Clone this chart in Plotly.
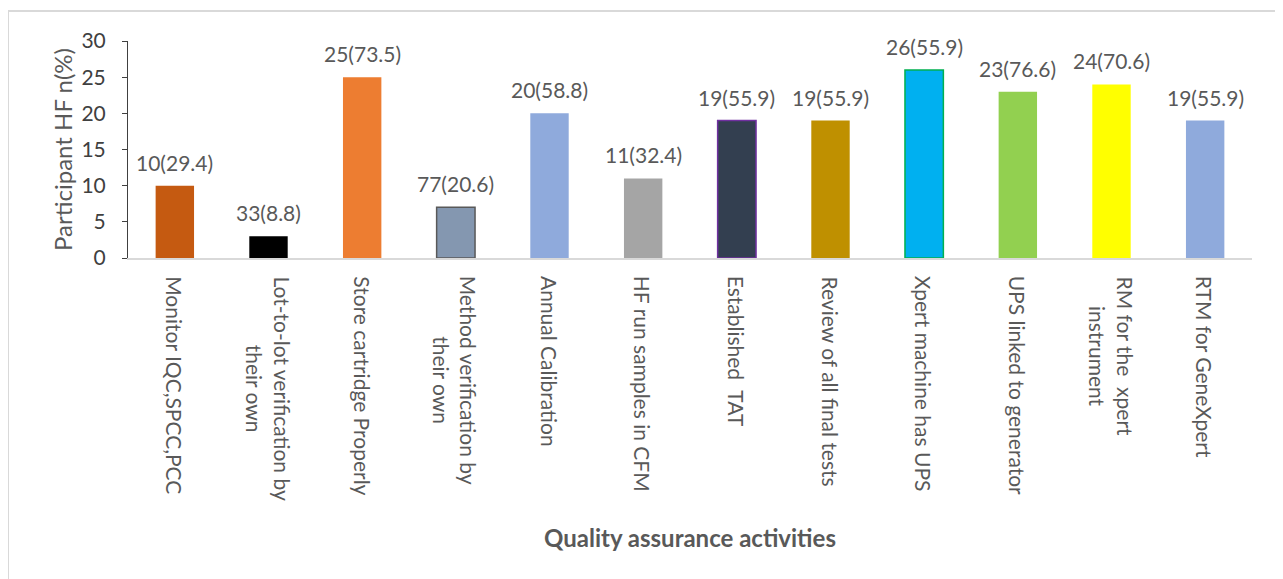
import plotly.graph_objects as go

categories = [
    "Monitor IQC,SPCC,PCC",
    "Lot-to-lot verification by<br>their own",
    "Store cartridge Properly",
    "Method verification by<br>their own",
    "Annual Calibration",
    "HF run samples in CFM",
    "Established  TAT",
    "Review of all final tests",
    "Xpert machine has UPS",
    "UPS linked to generator",
    "RM for the  xpert<br>instrument",
    "RTM for GeneXpert",
]
counts = [10, 3, 25, 7, 20, 11, 19, 19, 26, 23, 24, 19]
value_labels = ["10(29.4)", "33(8.8)", "25(73.5)", "77(20.6)", "20(58.8)", "11(32.4)",
                "19(55.9)", "19(55.9)", "26(55.9)", "23(76.6)", "24(70.6)", "19(55.9)"]
y_ticks = [0, 5, 10, 15, 20, 25, 30]

bar_colors = ["#C55A11", "#000000", "#ED7D31", "#8497B0", "#8FAADC", "#A5A5A5",
              "#333F50", "#BF9000", "#00B0F0", "#92D050", "#FFFF00", "#8FAADC"]
outline_colors = ["#C55A11", "#000000", "#ED7D31", "#595959", "#8FAADC", "#A5A5A5",
                  "#7030A0", "#BF9000", "#00B050", "#92D050", "#FFFF00", "#8FAADC"]
outline_widths = [0, 0, 0, 1.5, 0, 0, 1.5, 0, 1.5, 0, 0, 0]

OFF = 8  # page body margin
W, H = 1283 - OFF, 579 - OFF
L, R, T, B = 128 - OFF, 1252 - OFF, 41 - OFF, 258 - OFF
FONT = "Lato"
TXT = "#595959"

def px_x(p):
    return (p - OFF - L) / (R - L)

def px_y(p):
    return (B - (p - OFF)) / (B - T)

fig = go.Figure()
fig.add_trace(go.Bar(
    x=categories, y=counts,
    marker=dict(color=bar_colors, line=dict(color=outline_colors, width=outline_widths)),
    width=0.41,
    hoverinfo="skip",
))

annotations = []
for c, v, lab in zip(categories, counts, value_labels):
    annotations.append(dict(
        x=c, y=v, xref="x", yref="y", text=lab, showarrow=False,
        yanchor="bottom", xanchor="center", yshift=9,
        font=dict(family=FONT, size=21, color=TXT),
    ))
for c in categories:
    annotations.append(dict(
        x=c, y=px_y(274), xref="x", yref="paper", text=c, showarrow=False,
        textangle=90, yanchor="top", xanchor="center", align="center",
        font=dict(family=FONT, size=21, color=TXT),
    ))
annotations.append(dict(
    x=0.5, y=px_y(537), xref="paper", yref="paper",
    text="<b>Quality assurance activities</b>", showarrow=False,
    xanchor="center", yanchor="middle",
    font=dict(family=FONT, size=24, color=TXT),
))

fig.update_layout(
    width=W, height=H,
    margin=dict(l=L, r=W - R, t=T, b=H - B, autoexpand=False),
    paper_bgcolor="white", plot_bgcolor="white",
    showlegend=False,
    annotations=annotations,
    shapes=[dict(type="rect", xref="paper", yref="paper",
                 x0=px_x(8), x1=px_x(1281), y0=px_y(11), y1=px_y(620),
                 line=dict(color="#D9D9D9", width=2), layer="below")],
    xaxis=dict(showticklabels=False, showline=True, linecolor="#D9D9D9", linewidth=1.5,
               ticks="", showgrid=False, zeroline=False),
    yaxis=dict(range=[0, 30], tickvals=y_ticks, showline=True, linecolor="#404040",
               linewidth=1, ticks="outside", ticklen=5, tickcolor="#404040",
               showgrid=False, zeroline=False, ticklabelstandoff=12,
               tickfont=dict(family=FONT, size=21, color="#404040"),
               title=dict(text="Participant HF n(%)", standoff=2,
                          font=dict(family=FONT, size=24, color=TXT))),
)

fig.write_html("out.html")
